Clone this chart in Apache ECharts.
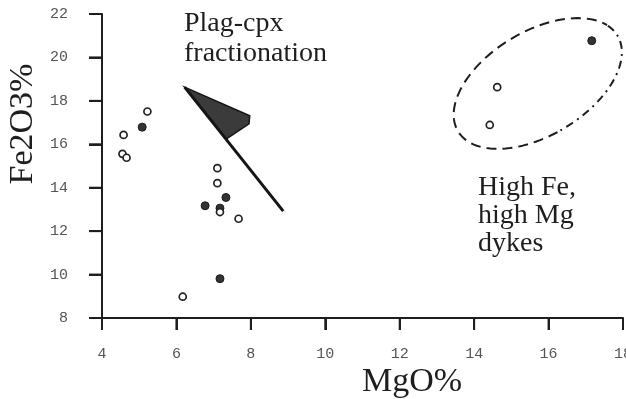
<!DOCTYPE html>
<html>
<head>
<meta charset="utf-8">
<script src="https://cdn.jsdelivr.net/npm/echarts@6/dist/echarts.min.js"></script>
<style>
html,body{margin:0;padding:0;background:#ffffff;}
#chart{width:626px;height:399px;}
</style>
</head>
<body>
<div id="chart"></div>
<script>
// ---- data (MgO %, Fe2O3 %) ----
const openMgO   = [5.22, 4.58, 4.55, 4.66, 7.10, 7.10, 7.17, 7.67, 6.17, 14.62, 14.42];
const openFe2O3 = [17.51, 16.43, 15.56, 15.38, 14.90, 14.21, 12.88, 12.57, 8.98, 18.63, 16.89];
const filledMgO   = [5.08, 7.33, 6.77, 7.17, 7.17, 17.16];
const filledFe2O3 = [16.79, 13.55, 13.17, 13.06, 9.81, 20.77];

// fractionation vector (flag + line)
const flagMgO   = [6.22, 7.97, 7.95, 7.34];
const flagFe2O3 = [18.63, 17.31, 16.94, 16.24];
const vectorMgO   = [6.22, 8.87];
const vectorFe2O3 = [18.63, 12.92];

// high Fe / high Mg field (ellipse: centre, half-axis vectors in data units)
const fieldCentre = [15.71, 18.80];
const fieldMajor  = [2.142, 2.205];
const fieldMinor  = [0.720, -2.051];

// axes
const xRange = [4, 18], xStep = 2;
const yRange = [8, 22], yStep = 2;
const xTickValues = [4, 6, 8, 10, 12, 14, 16, 18];
const yTickValues = [8, 10, 12, 14, 16, 18, 20, 22];

const labels = {
  x: 'MgO%',
  y: 'Fe2O3%',
  vector: 'Plag-cpx\nfractionation',
  field: 'High Fe,\nhigh Mg\ndykes'
};

function pairs(xs, ys) { return xs.map((x, i) => [x, ys[i]]); }
function ellipseArc(t0, t1) {
  const pts = [];
  for (let t = t0; t <= t1 + 1e-9; t += 3) {
    const r = t * Math.PI / 180, c = Math.cos(r), s = Math.sin(r);
    pts.push([fieldCentre[0] + c * fieldMajor[0] + s * fieldMinor[0],
              fieldCentre[1] + c * fieldMajor[1] + s * fieldMinor[1]]);
  }
  return pts;
}

const ink = '#1e1e1e';
const chart = echarts.init(document.getElementById('chart'), null, {renderer: 'canvas'});

const textGraphics = [
  {type: 'text', x: 412, y: 382, style: {text: labels.x, font: '34px "Liberation Serif"', fill: ink, align: 'center', verticalAlign: 'middle'}},
  {type: 'text', x: 23, y: 124, rotation: Math.PI / 2, style: {text: labels.y, font: '34px "Liberation Serif"', fill: ink, align: 'center', verticalAlign: 'middle'}},
  {type: 'text', x: 184, y: 9, style: {text: labels.vector, font: '28px "Liberation Serif"', lineHeight: 30, fill: ink, align: 'left', verticalAlign: 'top'}},
  {type: 'text', x: 478, y: 174, style: {text: labels.field, font: '28px "Liberation Serif"', lineHeight: 28, fill: ink, align: 'left', verticalAlign: 'top'}}
];

chart.setOption({
  animation: false,
  backgroundColor: '#ffffff',
  grid: {left: 102, right: 3, top: 14, bottom: 81, containLabel: false, outerBoundsMode: 'none'},
  xAxis: {
    type: 'value', min: xRange[0], max: xRange[1], interval: xStep,
    axisLine: {show: true, onZero: false, lineStyle: {color: ink, width: 2}},
    axisTick: {show: true, inside: false, length: 12, lineStyle: {color: ink, width: 2}},
    axisLabel: {show: true, margin: 29, color: '#555', fontFamily: 'Liberation Mono', fontSize: 15, hideOverlap: false},
    splitLine: {show: false}
  },
  yAxis: {
    type: 'value', min: yRange[0], max: yRange[1], interval: yStep,
    axisLine: {show: true, onZero: false, lineStyle: {color: ink, width: 2}},
    axisTick: {show: true, inside: false, length: 13, lineStyle: {color: ink, width: 2}},
    axisLabel: {show: true, margin: 34, color: '#555', fontFamily: 'Liberation Mono', fontSize: 15},
    splitLine: {show: false}
  },
  graphic: textGraphics,
  series: [
    {
      type: 'custom', name: 'flag', silent: true,
      data: [0],
      renderItem: function (params, api) {
        return {
          type: 'polygon',
          shape: {points: flagMgO.map((x, i) => api.coord([x, flagFe2O3[i]]))},
          style: {fill: '#3b3b3b', stroke: '#151515', lineWidth: 1.5}
        };
      }
    },
    {
      type: 'line', name: 'vector', data: pairs(vectorMgO, vectorFe2O3),
      symbol: 'none', lineStyle: {color: '#151515', width: 3}, silent: true
    },
    {
      type: 'line', name: 'field-dashed', data: ellipseArc(95, 345),
      symbol: 'none', lineStyle: {color: ink, width: 2, type: [10, 6]}, silent: true
    },
    {
      type: 'line', name: 'field-dashdot', data: ellipseArc(-15, 95),
      symbol: 'none', lineStyle: {color: ink, width: 2, type: [8, 5, 2, 5]}, silent: true
    },
    {
      type: 'scatter', name: 'filled', data: pairs(filledMgO, filledFe2O3),
      symbol: 'circle', symbolSize: 8,
      itemStyle: {color: '#333', borderColor: '#1a1a1a', borderWidth: 1, opacity: 1}
    },
    {
      type: 'scatter', name: 'open', data: pairs(openMgO, openFe2O3),
      symbol: 'circle', symbolSize: 7,
      itemStyle: {color: '#ffffff', borderColor: '#222', borderWidth: 1.7, opacity: 1}
    }
  ]
});

// tick marks placed through the axes' own scales
const x0 = chart.convertToPixel({xAxisIndex: 0}, xRange[0]);
const y0 = chart.convertToPixel({yAxisIndex: 0}, yRange[0]);
const tickGraphics = [];
xTickValues.forEach(v => {
  const px = chart.convertToPixel({xAxisIndex: 0}, v);
  tickGraphics.push({type: 'line', shape: {x1: px, y1: y0, x2: px, y2: y0 + 12}, style: {stroke: ink, lineWidth: 2}});
});
yTickValues.forEach(v => {
  const py = chart.convertToPixel({yAxisIndex: 0}, v);
  tickGraphics.push({type: 'line', shape: {x1: x0 - 13, y1: py, x2: x0, y2: py}, style: {stroke: ink, lineWidth: 2}});
});
chart.setOption({graphic: textGraphics.concat(tickGraphics)});
</script>
</body>
</html>
